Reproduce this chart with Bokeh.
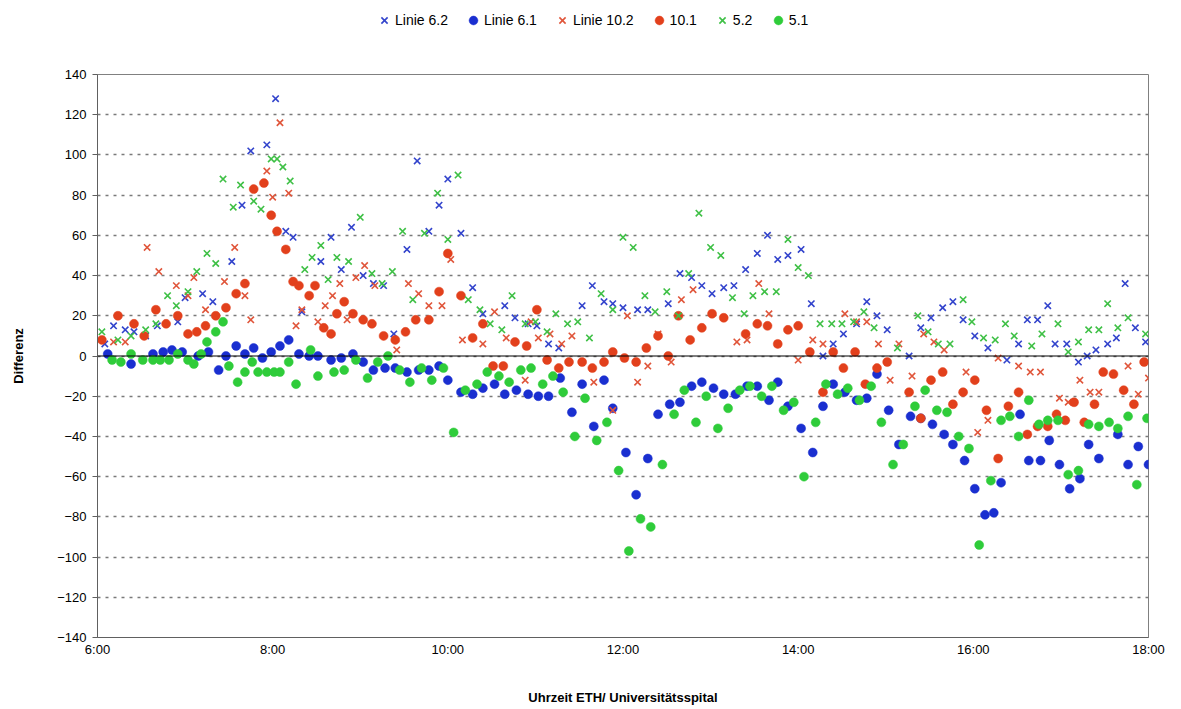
from bokeh.plotting import figure
from bokeh.layouts import column
from bokeh.models import Legend, LegendItem, Span, FixedTicker, ColumnDataSource
from bokeh.embed import file_html
from bokeh.resources import INLINE

# ---------------- data ----------------
x_ticks = [6, 8, 10, 12, 14, 16, 18]
x_tick_labels = ["6:00", "8:00", "10:00", "12:00", "14:00", "16:00", "18:00"]
y_ticks = [-140, -120, -100, -80, -60, -40, -20, 0, 20, 40, 60, 80, 100, 120, 140]

t62 = ["6:05","6:11","6:19","6:25","6:33","6:41","6:55","7:00","7:12","7:19",
       "7:32","7:39","7:45","7:56","8:02","8:09","8:14","8:20","8:33","8:40",
       "8:47","8:54","9:02","9:09","9:16","9:23","9:32","9:39","9:47","9:54",
       "10:00","10:09","10:17","10:24","10:39","10:46","10:55","11:01","11:09","11:16",
       "11:32","11:39","11:47","11:53","12:00","12:10","12:17","12:31","12:39","12:47",
       "12:54","13:01","13:09","13:16","13:24","13:32","13:39","13:46","13:53","14:02",
       "14:09","14:17","14:24","14:31","14:40","14:47","14:54","15:01","15:16","15:24",
       "15:31","15:39","15:46","15:53","16:01","16:10","16:23","16:31","16:37","16:44",
       "16:51","16:56","17:04","17:12","17:18","17:24","17:32","17:38","17:44","17:51",
       "17:58"]
v62 = [6,15,13,12,10,15,17,29,31,27,
       47,75,102,105,128,62,59,22,47,59,
       43,64,40,36,35,11,53,97,62,75,
       88,61,34,21,25,19,16,15,6,4,
       25,35,27,26,24,23,23,26,41,39,
       35,31,34,35,43,51,60,48,50,53,
       26,0,6,11,16,27,20,13,0,14,
       19,24,27,18,10,4,-2,6,18,18,
       25,6,6,-3,0,3,6,9,36,14,
       7]

t61 = ["6:07","6:23","6:38","6:45","6:51","6:58","7:09","7:16","7:23","7:28",
       "7:35","7:41","7:47","7:53","7:59","8:05","8:11","8:18","8:25","8:31",
       "8:40","8:47","8:55","9:02","9:09","9:17","9:24","9:32","9:40","9:47",
       "9:54","10:00","10:09","10:17","10:24","10:32","10:39","10:47","10:55","11:02",
       "11:09","11:17","11:25","11:32","11:40","11:47","11:53","12:02","12:09","12:17",
       "12:24","12:32","12:39","12:47","12:54","13:02","13:09","13:17","13:25","13:32",
       "13:40","13:46","13:53","14:02","14:10","14:17","14:24","14:32","14:40","14:47",
       "14:54","15:02","15:09","15:17","15:24","15:32","15:40","15:46","15:54","16:01",
       "16:08","16:14","16:19","16:32","16:38","16:46","16:52","16:59","17:06","17:13",
       "17:19","17:26","17:39","17:46","17:53","18:00"]
v61 = [1,-4,1,2,3,2,0,2,-7,0,
       5,1,4,-1,2,5,8,1,0,0,
       -2,-1,1,-3,-7,-6,-6,-8,-7,-7,
       -5,-12,-18,-19,-16,-14,-19,-17,-19,-20,
       -20,-11,-28,-14,-35,-12,-26,-48,-69,-51,
       -29,-24,-23,-15,-13,-16,-19,-19,-15,-15,
       -22,-13,-25,-36,-48,-25,-14,-18,-22,-21,
       -9,-27,-44,-30,-31,-34,-39,-44,-52,-66,
       -79,-78,-63,-29,-52,-52,-42,-54,-66,-61,
       -44,-51,-39,-54,-45,-54]

t102 = ["6:11","6:19","6:34","6:42","6:54","7:02","7:06","7:14","7:27","7:34",
        "7:41","7:45","7:56","8:00","8:05","8:11","8:16","8:20","8:31","8:36",
        "8:41","8:46","8:51","8:57","9:03","9:10","9:25","9:33","9:40","9:47",
        "9:56","10:02","10:10","10:24","10:32","10:40","10:53","10:57","11:02","11:10",
        "11:18","11:25","11:40","11:53","12:03","12:10","12:17","12:24","12:33","12:40",
        "12:48","13:18","13:25","13:33","13:40","13:46","14:00","14:10","14:17","14:32",
        "14:40","14:47","14:55","15:03","15:09","15:18","15:26","15:33","15:40","15:55",
        "16:03","16:10","16:17","16:31","16:39","16:46","16:59","17:05","17:13","17:20",
        "17:26","17:46","17:53","18:00"]
v102 = [7,7,54,42,35,30,39,23,37,54,
        30,18,92,79,116,81,15,23,17,25,
        30,36,18,39,45,35,3,36,31,25,
        25,48,8,6,22,9,-12,17,9,11,
        6,10,-13,-27,20,-13,-5,11,-3,28,
        33,7,8,36,21,6,-2,8,6,21,
        17,17,6,-12,6,-10,11,7,3,-8,
        -38,-32,-1,-5,-8,-8,-21,-23,-12,-18,
        -18,-5,-19,-11]

t101 = ["6:03","6:14","6:25","6:32","6:40","6:47","6:55","7:02","7:08","7:14",
        "7:21","7:28","7:35","7:41","7:47","7:54","7:59","8:03","8:09","8:14",
        "8:18","8:25","8:29","8:35","8:40","8:44","8:49","8:55","9:02","9:08",
        "9:16","9:24","9:31","9:38","9:47","9:54","10:00","10:09","10:17","10:24",
        "10:31","10:38","10:46","10:54","11:01","11:08","11:16","11:23","11:32","11:39",
        "11:47","11:53","12:01","12:09","12:16","12:24","12:31","12:38","12:46","12:54",
        "13:01","13:09","13:24","13:32","13:39","13:46","13:53","14:00","14:08","14:17",
        "14:24","14:31","14:39","14:46","14:54","15:01","15:16","15:24","15:31","15:39",
        "15:46","15:53","16:01","16:09","16:17","16:24","16:31","16:37","16:44","16:51",
        "16:57","17:03","17:09","17:16","17:23","17:29","17:36","17:43","17:50","17:57"]
v101 = [8,20,16,10,23,16,20,11,12,15,
        20,24,31,36,83,86,70,62,53,37,
        35,30,35,14,11,21,27,21,18,16,
        10,8,12,18,18,32,51,30,9,16,
        -5,-5,7,5,23,-2,-6,-3,-3,-6,
        -3,2,-1,-3,4,10,0,20,8,14,
        21,19,11,16,15,6,13,15,2,-18,
        2,-6,2,-14,-6,-3,-18,-31,-12,-8,
        -24,-18,-12,-27,-51,-25,-18,-39,-35,-35,
        -29,-32,-23,-33,-24,-8,-9,-17,-24,-3]

t52 = ["6:03","6:14","6:23","6:33","6:40","6:48","6:54","7:02","7:08","7:15",
       "7:21","7:26","7:33","7:38","7:47","7:52","7:59","8:03","8:07","8:12",
       "8:22","8:27","8:33","8:38","8:44","8:52","9:00","9:08","9:15","9:22",
       "9:29","9:36","9:44","9:53","10:00","10:07","10:14","10:22","10:29","10:37",
       "10:44","10:53","11:00","11:08","11:14","11:22","11:29","11:37","11:45","11:53",
       "12:00","12:07","12:15","12:22","12:30","12:38","12:45","12:52","13:00","13:07",
       "13:15","13:23","13:29","13:37","13:45","13:53","14:00","14:07","14:15","14:23",
       "14:30","14:38","14:45","14:52","15:08","15:22","15:29","15:36","15:44","15:53",
       "15:59","16:07","16:15","16:22","16:28","16:40","16:47","16:58","17:05","17:12",
       "17:19","17:26","17:32","17:39","17:46","17:58"]
v52 = [12,8,10,13,16,30,25,32,42,51,
       46,88,74,85,77,73,98,98,94,87,
       43,49,55,38,49,47,69,41,36,42,
       62,28,61,81,58,90,28,23,16,13,
       30,16,17,12,21,16,17,9,31,23,
       59,54,30,22,32,20,41,71,54,50,
       29,21,30,32,32,58,44,40,16,16,
       16,17,22,14,4,20,12,6,6,28,
       17,9,8,16,10,5,11,16,2,7,
       13,13,26,14,19,11]

t51 = ["6:10","6:16","6:23","6:31","6:38","6:43","6:49","6:55","7:02","7:06",
       "7:11","7:15","7:21","7:26","7:30","7:36","7:41","7:46","7:50","7:56",
       "8:01","8:05","8:11","8:16","8:26","8:31","8:42","8:49","8:57","9:05",
       "9:12","9:19","9:27","9:34","9:42","9:49","9:57","10:04","10:12","10:20",
       "10:27","10:35","10:42","10:50","10:57","11:05","11:12","11:19","11:27","11:34",
       "11:42","11:49","11:57","12:04","12:12","12:19","12:27","12:35","12:42","12:50",
       "12:57","13:05","13:12","13:20","13:27","13:35","13:42","13:50","13:57","14:04",
       "14:12","14:19","14:27","14:34","14:42","14:50","14:57","15:05","15:12","15:20",
       "15:27","15:35","15:42","15:50","15:57","16:04","16:12","16:19","16:25","16:31",
       "16:38","16:45","16:51","16:58","17:05","17:12","17:19","17:26","17:33","17:39",
       "17:46","17:52","17:59"]
v51 = [-2,-3,1,-2,-2,-2,-2,1,-2,-4,
       1,7,12,17,-5,-13,-8,-3,-8,-8,
       -8,-8,-3,-14,3,-10,-8,-7,-2,-11,
       -3,0,-7,-13,-6,-12,-6,-38,-17,-14,
       -8,-10,-13,-7,-6,-14,-10,-18,-40,-21,
       -42,-33,-57,-97,-81,-85,-54,-29,-17,-33,
       -20,-36,-26,-17,-15,-20,-15,-27,-23,-60,
       -33,-14,-19,-16,-22,-15,-33,-54,-44,-25,
       -17,-27,-28,-40,-46,-94,-62,-32,-30,-40,
       -22,-34,-32,-32,-59,-57,-34,-35,-33,-36,
       -30,-64,-31]

series_names = ["Linie 6.2", "Linie 6.1", "Linie 10.2", "10.1", "5.2", "5.1"]


def hours(s):
    h, m = s.split(":")
    return int(h) + int(m) / 60.0


FONT = "Liberation Sans"
LEG_H = 40

# ---------------- main chart ----------------
p = figure(width=1181, height=709 - LEG_H, x_range=(6, 18), y_range=(-140, 140),
           output_backend="svg", toolbar_location=None,
           min_border_left=97, min_border_right=33, min_border_top=74 - LEG_H,
           min_border_bottom=72, background_fill_color="white",
           border_fill_color="white")

p.xgrid.visible = False
p.ygrid.ticker = FixedTicker(ticks=y_ticks)
p.ygrid.grid_line_color = "#7a7a7a"
p.ygrid.grid_line_dash = "3 5"
p.ygrid.grid_line_width = 1.3

p.outline_line_color = "#808080"
p.outline_line_width = 1

p.xaxis.ticker = FixedTicker(ticks=x_ticks)
p.xaxis.major_label_overrides = {t: l for t, l in zip(x_ticks, x_tick_labels)}
p.yaxis.ticker = FixedTicker(ticks=y_ticks)
for ax in (p.xaxis[0], p.yaxis[0]):
    ax.major_label_text_font = FONT
    ax.major_label_text_font_size = "13px"
    ax.major_label_text_color = "#000000"
    ax.axis_line_color = "#606060"
    ax.major_tick_line_color = "#606060"
    ax.minor_tick_line_color = None
    ax.axis_label_text_font = FONT
    ax.axis_label_text_font_size = "13px"
    ax.axis_label_text_font_style = "bold"
    ax.axis_label_text_color = "#000000"
p.xaxis.major_tick_in = 0
p.xaxis.major_tick_out = 0
p.yaxis.major_tick_in = 0
p.yaxis.major_tick_out = 5
p.xaxis.major_label_standoff = 4
p.yaxis.major_label_standoff = 6
p.xaxis.axis_label = "Uhrzeit ETH/ Universitätsspital"
p.yaxis.axis_label = "Differenz"
p.xaxis.axis_label_standoff = 30
p.yaxis.axis_label_standoff = 28

p.add_layout(Span(location=0, dimension="width", line_color="#000000", line_width=1.2))

specs = [
    (t62, v62, "x", "#3344cc", 9),
    (t61, v61, "circle", "#1a2fd0", 9),
    (t102, v102, "x", "#e0553a", 9),
    (t101, v101, "circle", "#e2401c", 9),
    (t52, v52, "x", "#3fc046", 9),
    (t51, v51, "circle", "#2fcc3a", 9),
]

# ---------------- legend strip (same sources, ranges keep points out of view) ----------------
lf = figure(width=1181, height=LEG_H, x_range=(0, 1), y_range=(0, 1),
            output_backend="svg", toolbar_location=None,
            x_axis_type=None, y_axis_type=None,
            min_border_left=0, min_border_right=0, min_border_top=0,
            min_border_bottom=0, background_fill_color="white",
            border_fill_color="white")
lf.grid.visible = False
lf.outline_line_color = None

items = []
for name, (ts, vs, marker, color, size) in zip(series_names, specs):
    src = ColumnDataSource(dict(x=[hours(t) for t in ts], y=vs))
    if marker == "x":
        kw = dict(marker="x", size=size, line_color=color, line_width=1.6)
    else:
        kw = dict(marker="circle", size=size, fill_color=color,
                  line_color=color, line_width=0.5)
    p.scatter("x", "y", source=src, **kw)
    proxy = lf.scatter("x", "y", source=src, **kw)
    items.append(LegendItem(label=name, renderers=[proxy]))

legend = Legend(items=items, orientation="horizontal", location=(276, 9),
                label_text_font=FONT, label_text_font_size="14px",
                label_text_color="#000000", glyph_width=22, glyph_height=22,
                label_standoff=0, spacing=14, padding=0, margin=0,
                border_line_color=None, background_fill_alpha=0)
lf.add_layout(legend, "center")

layout = column(lf, p, spacing=0)
open("out.html", "w").write(file_html(layout, INLINE))
